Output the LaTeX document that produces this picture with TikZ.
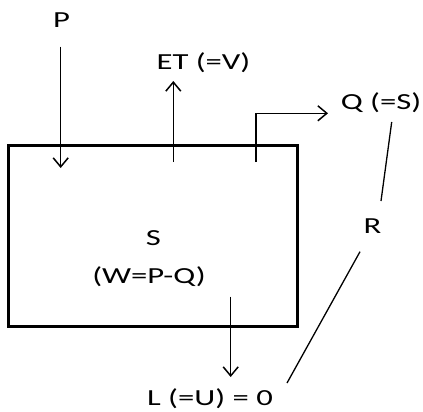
\documentclass[tikz,border=0pt]{standalone}
\usepackage{fontspec}
\setmainfont{Carlito}
\usetikzlibrary{arrows.meta}
\tikzset{
  lbl/.style={font=\fontsize{23}{26}\selectfont, inner sep=0pt, anchor=base, xscale=1.42, transform shape},
  flow/.style={line width=1.5pt, -{Straight Barb[length=9pt,width=15pt,line width=1.5pt]}},
  thin/.style={line width=1.3pt},
  sys/.style={line width=3pt}
}
\begin{document}
\begin{tikzpicture}[x=1pt,y=-1pt]
\useasboundingbox (0,0) rectangle (423,412);
\draw[sys] (8.5,145.7) coordinate (box tl) rectangle (297.7,326) coordinate (box br);
% labels
\node[lbl] (p) at (61.5,27.7) {P};
\node[lbl] (et) at (203.5,70) {ET (=V)};
\node[lbl] (q) at (381,110) {Q (=S)};
\node[lbl] (r) at (372.5,233) {R};
\node[lbl] (s) at (153.5,245) {S};
\node[lbl] (w) at (149,283) {(W=P-Q)};
\node[lbl] (l) at (210,405) {L (=U) = 0};
% coordinates
\coordinate (pa) at (60.7,46.7);
\coordinate (pb) at (60.7,168);
\coordinate (ea) at (173.3,162);
\coordinate (eb) at (173.3,81);
\coordinate (qa) at (256,162);
\coordinate (qc) at (256,113.3);
\coordinate (qb) at (328,113.3);
\coordinate (la) at (230.7,296.7);
\coordinate (lb) at (230.7,377);
\coordinate (r1) at (391.7,122);
\coordinate (r2) at (381,201);
\coordinate (r3) at (360,251.7);
\coordinate (r4) at (287,383);
% arrows
\draw[flow] (pa) -- (pb);
\draw[flow] (ea) -- (eb);
\draw[flow] (qa) -- (qc) -- (qb);
\draw[flow] (la) -- (lb);
\draw[thin] (r1) -- (r2);
\draw[thin] (r3) -- (r4);
\end{tikzpicture}
\end{document}
